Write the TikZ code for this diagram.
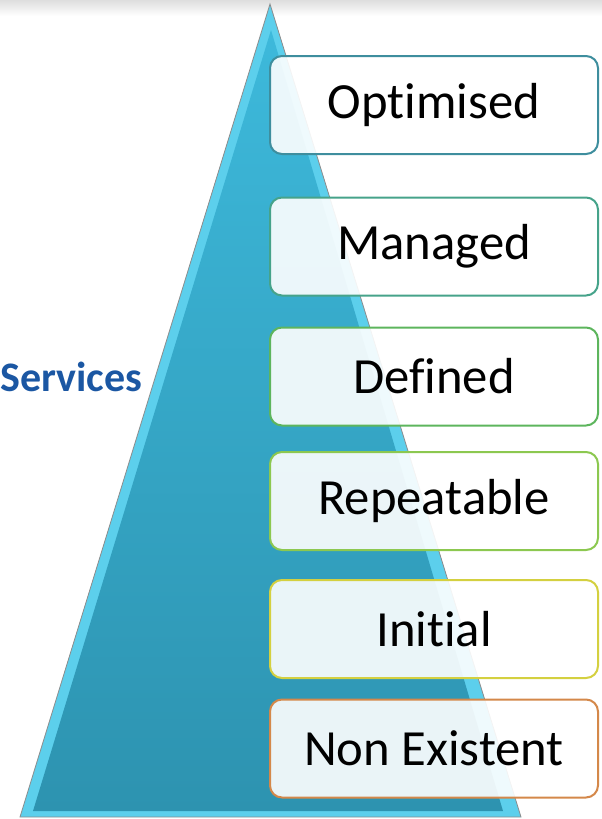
\documentclass[tikz,border=0pt]{standalone}
\usepackage{fontspec}
\setmainfont{Carlito}[Ligatures=NoCommon]
\usetikzlibrary{positioning}

\definecolor{pyrlight}{HTML}{5CCFEC}
\definecolor{pyrtop}{HTML}{3DB9DB}
\definecolor{pyrbottom}{HTML}{2D93B0}
\definecolor{servblue}{HTML}{1B57A3}
\definecolor{lvopt}{HTML}{3E8E9E}
\definecolor{lvman}{HTML}{46A38A}
\definecolor{lvdef}{HTML}{5DB55D}
\definecolor{lvrep}{HTML}{8CC850}
\definecolor{lvini}{HTML}{D4D040}
\definecolor{lvnon}{HTML}{D4884A}

\begin{document}
\begin{tikzpicture}[x=0.75pt, y=-0.75pt,
	level/.style={draw, line width=1.5pt, rounded corners=9pt, fill=white,
		fill opacity=0.9, text opacity=1, minimum width=246pt,
		minimum height=73.5pt, font=\fontsize{38}{40}\selectfont}]
	
	\useasboundingbox (0,0) rectangle (602,819);
	\shade [top color=black!13, bottom color=white] (0,0) rectangle (602,16);
	
	% pyramid
	\coordinate (apex) at (270,4);
	\coordinate (base-l) at (20,817);
	\coordinate (base-r) at (521,817);
	\fill [pyrlight, draw=black!45, line width=0.6pt] (apex) -- (base-l) -- (base-r) -- cycle;
	\shade [top color=pyrtop, bottom color=pyrbottom] (271,30) -- (33,811) -- (503,811) -- cycle;
	
	\node [anchor=west, inner sep=0, text=servblue,
	font=\fontsize{31.5}{34}\selectfont\bfseries] (services) at (0,377) {Services};
	
	\foreach \t/\c/\y [count=\i] in {Optimised/lvopt/105, Managed/lvman/246.5,
		Defined/lvdef/376.5, Repeatable/lvrep/501, Initial/lvini/629,
		Non Existent/lvnon/748.5}
	\node [level, draw=\c] (level-\i) at (434,\y) {\t};
	
\end{tikzpicture}
\end{document}
